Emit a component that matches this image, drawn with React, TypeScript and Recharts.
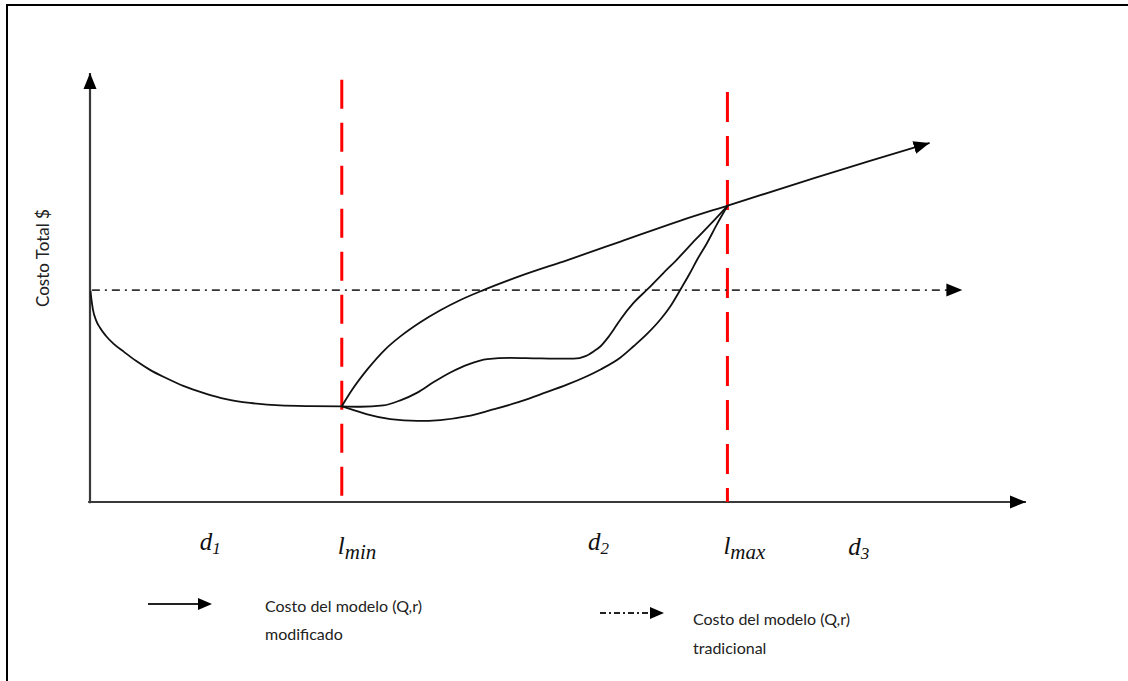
import React from "react";
import { ComposedChart, Line, XAxis, YAxis, ReferenceLine, Legend } from "recharts";

// x: nivel de inventario (0-100), y: costo total (0-100)
const costoD1 = [
    { x: 0.05, y: 49.2 }, { x: 0.16, y: 47.1 }, { x: 0.32, y: 44.8 }, { x: 0.64, y: 42.4 },
    { x: 1.07, y: 40.6 }, { x: 1.71, y: 38.7 }, { x: 2.56, y: 36.8 }, { x: 3.63, y: 35.0 },
    { x: 4.91, y: 32.9 }, { x: 6.41, y: 30.8 }, { x: 8.12, y: 28.9 }, { x: 10.04, y: 27.0 },
    { x: 12.18, y: 25.4 }, { x: 14.53, y: 24.0 }, { x: 17.09, y: 23.1 }, { x: 20.3, y: 22.5 },
    { x: 23.5, y: 22.35 }, { x: 26.9, y: 22.3 },
];

const costoSuperior = [
    { x: 26.9, y: 22.3 }, { x: 28.02, y: 26.2 }, { x: 29.63, y: 30.9 }, { x: 31.55, y: 35.6 },
    { x: 33.16, y: 38.6 }, { x: 35.29, y: 41.9 }, { x: 37.43, y: 44.7 }, { x: 39.57, y: 47.1 },
    { x: 42.03, y: 49.4 }, { x: 45.99, y: 52.7 }, { x: 51.02, y: 56.4 }, { x: 56.68, y: 60.7 },
    { x: 63.1, y: 65.6 }, { x: 68.13, y: 69.1 }, { x: 75.94, y: 74.5 }, { x: 83.42, y: 79.6 },
    { x: 89.7, y: 83.7 },
];

const costoMedio = [
    { x: 26.9, y: 22.3 }, { x: 28.88, y: 22.2 }, { x: 31.34, y: 22.5 }, { x: 33.16, y: 23.7 },
    { x: 34.97, y: 25.5 }, { x: 36.68, y: 27.9 }, { x: 38.5, y: 30.2 }, { x: 40.43, y: 32.1 },
    { x: 42.46, y: 33.3 }, { x: 44.92, y: 33.6 }, { x: 47.38, y: 33.5 }, { x: 49.73, y: 33.4 },
    { x: 51.66, y: 33.4 }, { x: 52.94, y: 34.0 }, { x: 53.8, y: 35.1 }, { x: 54.55, y: 36.3 },
    { x: 55.29, y: 38.2 }, { x: 56.04, y: 40.5 }, { x: 56.79, y: 42.9 }, { x: 58.07, y: 46.4 },
    { x: 59.57, y: 49.6 }, { x: 61.18, y: 53.2 }, { x: 62.78, y: 56.7 }, { x: 64.71, y: 61.2 },
    { x: 66.52, y: 65.3 }, { x: 68.13, y: 69.1 },
];

const costoInferior = [
    { x: 26.9, y: 22.3 }, { x: 28.34, y: 21.3 }, { x: 29.63, y: 20.4 }, { x: 32.09, y: 19.3 },
    { x: 34.97, y: 18.9 }, { x: 37.43, y: 19.1 }, { x: 40.32, y: 20.0 }, { x: 42.78, y: 21.4 },
    { x: 45.67, y: 23.2 }, { x: 48.13, y: 25.1 }, { x: 51.02, y: 27.4 }, { x: 54.55, y: 30.9 },
    { x: 56.68, y: 33.7 }, { x: 58.07, y: 36.3 }, { x: 59.57, y: 39.3 }, { x: 60.96, y: 42.6 },
    { x: 62.03, y: 45.7 }, { x: 63.1, y: 49.6 }, { x: 64.06, y: 53.2 }, { x: 64.92, y: 56.7 },
    { x: 65.88, y: 60.2 }, { x: 66.95, y: 64.6 }, { x: 68.13, y: 69.1 },
];

// costo del modelo tradicional (constante)
const costoTradicional = 49.4;
const tradicionalDesde = 0.2;
const tradicionalHasta = 93.2;

const lMin = 26.9;
const lMax = 68.1;
const lMinTop = 98.4;
const lMaxTop = 95.6;

const tickValues = [13.0, 26.9, 54.5, 68.1, 82.3];
const tickMain = ["d", "l", "d", "l", "d"];
const tickSub = ["1", "min", "2", "max", "3"];

const legendLines = [
    ["Costo del modelo (Q,r)", "modificado"],
    ["Costo del modelo (Q,r)", "tradicional"],
];

const yTitle = "Costo Total $";

const SANS = "Lato, 'Open Sans', sans-serif";
const MATH = "'Liberation Serif', 'DejaVu Serif', serif";

function MathTick(props: any) {
    const { x, y, payload } = props;
    const i = tickValues.indexOf(payload.value);
    if (i < 0) return null;
    const isL = tickMain[i] === "l";
    if (isL) {
        return (
            <text x={x - 4} y={y + 52} fontFamily={MATH} fontStyle="italic" fontSize={25} fill="#111" textAnchor="start">
                <tspan>{tickMain[i]}</tspan>
                <tspan dy={5} fontSize={21}>{tickSub[i]}</tspan>
            </text>
        );
    }
    return (
        <text x={x - 12} y={y + 48 + (i === 4 ? 5 : 0)} fontFamily={MATH} fontStyle="italic" fontSize={25} fill="#111" textAnchor="start">
            <tspan>{tickMain[i]}</tspan>
            <tspan dy={4} fontSize={17}>{tickSub[i]}</tspan>
        </text>
    );
}

function YTitle(props: any) {
    const vb = props.viewBox || { x: 90, y: 73, height: 429 };
    const cx = vb.x - 47;
    const cy = vb.y + vb.height * 0.43;
    return (
        <text x={cx} y={cy} transform={`rotate(-90, ${cx}, ${cy})`} textAnchor="middle" dominantBaseline="central"
            fontFamily={SANS} fontSize={17} fill="#222">
            {yTitle}
        </text>
    );
}

function LegendContent() {
    const arrows = [
        { left: 146, top: 595, dash: undefined as string | undefined },
        { left: 598, top: 604, dash: "6 3 2 3" },
    ];
    const texts = [
        { left: 265, top: 592, lh: 28 },
        { left: 693, top: 604, lh: 29 },
    ];
    return (
        <div style={{ position: "relative", width: 1128, height: 100 }}>
            {legendLines.map((lines, i) => (
                <React.Fragment key={i}>
                    <svg style={{ position: "absolute", left: arrows[i].left, top: arrows[i].top - 580 }} width={70} height={18}>
                        <line x1={2} y1={9} x2={54} y2={9} stroke="#222" strokeWidth={2} strokeDasharray={arrows[i].dash} />
                        <path d="M52,3 L66,9 L52,15 Z" fill="#000" />
                    </svg>
                    <div style={{ position: "absolute", left: texts[i].left, top: texts[i].top - 580, fontFamily: SANS, fontSize: 16, lineHeight: `${texts[i].lh}px`, color: "#222", whiteSpace: "nowrap" }}>
                        {lines.map((t) => <div key={t}>{t}</div>)}
                    </div>
                </React.Fragment>
            ))}
        </div>
    );
}

export default function App() {
    return (
        <div style={{ position: "absolute", left: 0, top: 0, width: 1128, height: 681, background: "#fff", overflow: "hidden" }}>
            <div style={{ position: "absolute", left: 6, top: 4, width: 1200, height: 800, borderTop: "2px solid #000", borderLeft: "2px solid #000" }} />
            <svg width={0} height={0} style={{ position: "absolute" }}>
                <defs>
                    <marker id="arrowHead" markerUnits="userSpaceOnUse" markerWidth={17} markerHeight={14} refX={16} refY={7} orient="auto">
                        <path d="M0,0.5 L16,7 L0,13.5 Z" fill="#000" />
                    </marker>
                </defs>
            </svg>
            <div style={{ position: "absolute", left: 0, top: 0 }}>
                <ComposedChart width={1128} height={681} margin={{ top: 73, right: 102, left: 90, bottom: 119 }}>
                    <XAxis type="number" dataKey="x" domain={[0, 100]} allowDataOverflow ticks={tickValues} interval={0}
                        axisLine={false} tickLine={false} tickSize={0} tickMargin={0} height={60} tick={<MathTick />} />
                    <YAxis type="number" dataKey="y" domain={[0, 100]} allowDataOverflow hide />

                    {/* ejes */}
                    <ReferenceLine segment={[{ x: 0, y: -0.3 }, { x: 0, y: 100 }]} stroke="#3a3a3a" strokeWidth={2.2}
                        markerEnd="url(#arrowHead)" ifOverflow="visible" label={<YTitle />} />
                    <ReferenceLine segment={[{ x: -0.2, y: 0 }, { x: 100, y: 0 }]} stroke="#3a3a3a" strokeWidth={2.2}
                        markerEnd="url(#arrowHead)" ifOverflow="visible" />

                    {/* límites */}
                    <ReferenceLine segment={[{ x: lMin, y: lMinTop }, { x: lMin, y: 0 }]} stroke="#ff0000" strokeWidth={3}
                        strokeDasharray="29 14" ifOverflow="visible" />
                    <ReferenceLine segment={[{ x: lMax, y: lMaxTop }, { x: lMax, y: 0 }]} stroke="#ff0000" strokeWidth={3}
                        strokeDasharray="30 14" ifOverflow="visible" />

                    {/* modelo tradicional */}
                    <ReferenceLine segment={[{ x: tradicionalDesde, y: costoTradicional }, { x: tradicionalHasta, y: costoTradicional }]}
                        stroke="#333" strokeWidth={1.8} strokeDasharray="8 5 2 5" markerEnd="url(#arrowHead)" ifOverflow="visible" />

                    {/* modelo modificado */}
                    <Line data={costoD1} dataKey="y" type="monotone" stroke="#111" strokeWidth={1.8} dot={false} activeDot={false} isAnimationActive={false} />
                    <Line data={costoInferior} dataKey="y" type="monotone" stroke="#111" strokeWidth={1.8} dot={false} activeDot={false} isAnimationActive={false} />
                    <Line data={costoMedio} dataKey="y" type="monotone" stroke="#111" strokeWidth={1.8} dot={false} activeDot={false} isAnimationActive={false} />
                    <Line data={costoSuperior} dataKey="y" type="monotone" stroke="#111" strokeWidth={1.8} dot={false} activeDot={false}
                        markerEnd="url(#arrowHead)" isAnimationActive={false} />

                    <Legend layout="vertical" align="center" verticalAlign="middle" content={<LegendContent />}
                        wrapperStyle={{ position: "absolute", left: 0, top: 580, width: 1128, height: 100, margin: 0 }} />
                </ComposedChart>
            </div>
        </div>
    );
}
